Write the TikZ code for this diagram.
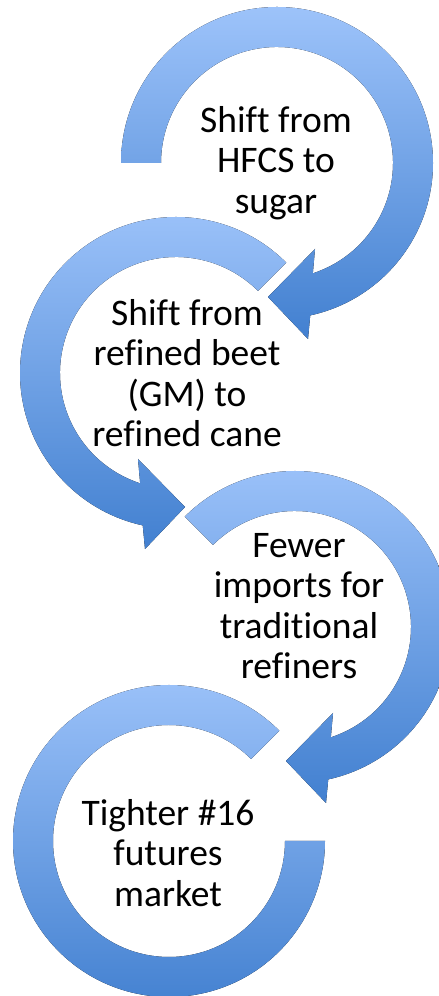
\documentclass[tikz,border=0pt]{standalone}
\usepackage{fontspec}
\setmainfont{Carlito}[Ligatures=NoCommon]
\usetikzlibrary{calc}

\definecolor{ringtop}{RGB}{157,195,250}
\definecolor{ringmid}{RGB}{128,168,236}
\definecolor{ringbot}{RGB}{66,128,208}

\begin{document}
\begin{tikzpicture}[x=1pt,y=1pt,
    ring/.style={top color=ringtop,middle color=ringmid,bottom color=ringbot},
    cycletext/.style={align=center,font=\fontsize{37.5}{40.5}\selectfont,inner sep=0pt}]
    \useasboundingbox (0,0) rectangle (439,996);

    \coordinate (c1) at (277,833);
    \coordinate (c2) at (176,623);
    \coordinate (c3) at (295,369);
    \coordinate (c4) at (169,155);

    % clockwise arrows
    \fill[ring,shift={(c1)}] (180:156) arc[start angle=180,end angle=-77.7,radius=156]
        -- (31,-176) -- (-9,-134) -- (38,-86) -- (-72:116)
        arc[start angle=-72,end angle=180,radius=116] -- cycle;
    % counterclockwise arrow
    \fill[ring,shift={(c2)}] (45:156) arc[start angle=45,end angle=257.7,radius=156]
        -- (-31,-176) -- (9,-134) -- (-38,-86) -- (252:116)
        arc[start angle=252,end angle=45,radius=116] -- cycle;
    \fill[ring,shift={(c3)}] (135:156) arc[start angle=135,end angle=-77.7,radius=156]
        -- (31,-176) -- (-9,-134) -- (38,-86) -- (-72:116)
        arc[start angle=-72,end angle=135,radius=116] -- cycle;
    % last one has no head
    \fill[ring,shift={(c4)}] (45:156) arc[start angle=45,end angle=360,radius=156]
        -- (0:116) arc[start angle=360,end angle=45,radius=116] -- cycle;

    \node[cycletext] (t1) at ($(c1)+(-1,0)$) {Shift from\\HFCS to\\sugar};
    \node[cycletext] (t2) at ($(c2)+(11,0)$) {Shift from\\refined beet\\(GM) to\\refined cane};
    \node[cycletext] (t3) at ($(c3)+(4,21)$) {Fewer\\imports for\\traditional\\refiners};
    \node[cycletext] (t4) at ($(c4)+(-1,-12)$) {Tighter \#16\\futures\\market};
\end{tikzpicture}
\end{document}
